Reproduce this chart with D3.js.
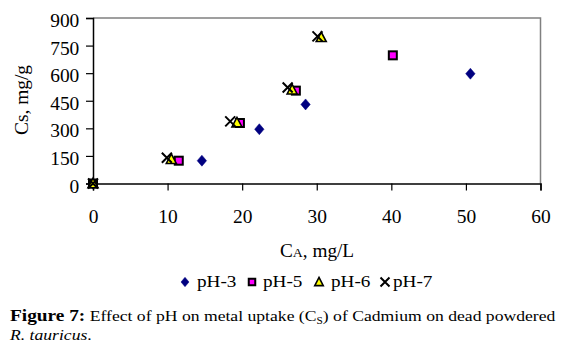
<!DOCTYPE html>
<html><head><meta charset="utf-8">
<script src="https://cdn.jsdelivr.net/npm/d3@7"></script>
<style>body{margin:0;background:#fff}svg{display:block}</style>
</head><body>
<svg id="c" width="566" height="357"></svg>
<script>
const xTicks = [0,10,20,30,40,50,60];
const yTicks = [0,150,300,450,600,750,900];
const seriesNames = ["pH-3","pH-5","pH-6","pH-7"];
const ph3 = [[0,0],[14.6,124],[22.3,295],[28.5,430],[50.6,597]];
const ph5 = [[0,0],[11.5,124],[19.7,329],[27.2,505],[40.2,697]];
const ph6 = [[0,0],[10.5,132],[19.3,331],[26.7,510],[30.6,795]];
const ph7 = [[0,0],[9.9,140],[18.4,338],[26.1,522],[30.1,800]];
const seriesData = [ph3, ph5, ph6, ph7];

const svg = d3.select("#c");
const font = "'Liberation Serif', 'Times New Roman', serif";
const x = d3.scaleLinear().domain([0,60]).range([93,540.5]);
const y = d3.scaleLinear().domain([0,900]).range([183.5,18]);

function place(t, tx, ty, sx, extra){
  t.attr("x",0).attr("y",0).attr("transform",`translate(${tx},${ty})${extra||""} scale(${sx},1)`);
  return t;
}

svg.append("path").attr("d",`M${x(0)},${y(900)}H${x(60)}V${y(0)}`)
  .attr("fill","none").attr("stroke","#808080").attr("stroke-width",1.5);

const xa = svg.append("g").attr("transform",`translate(0,${y(0)})`)
  .call(d3.axisBottom(x).tickValues(xTicks).tickSize(7).tickPadding(20));
const ya = svg.append("g").attr("transform",`translate(${x(0)},0)`)
  .call(d3.axisLeft(y).tickValues(yTicks).tickSize(7).tickPadding(7));
[xa,ya].forEach(a=>{
  a.selectAll("path").attr("stroke","#000").attr("stroke-width",1.5);
  a.selectAll("line").attr("stroke","#000").attr("stroke-width",1.2);
  a.selectAll("text").attr("font-family",font).attr("font-size",18).attr("fill","#000");
});
xa.selectAll("text").attr("dy",null).each(function(){ place(d3.select(this), 0, 39.5, 1.08); });
ya.selectAll("text").attr("dy",null).each(function(){ place(d3.select(this), -13.7, 8.6, 1.08); });

const xt = place(svg.append("text"), 317, 256.7, 1.07).attr("text-anchor","middle")
  .attr("font-family",font).attr("font-size",18).attr("fill","#000");
xt.append("tspan").text("C");
xt.append("tspan").attr("font-size",13).text("A");
xt.append("tspan").text(", mg/L");

place(svg.append("text"), 28, 100, 1.08, " rotate(-90)").attr("text-anchor","middle")
  .attr("font-family",font).attr("font-size",18).attr("fill","#000").text("Cs, mg/g");

function drawMarker(g, i, cx, cy, s){
  if(i===0){
    const w=s*0.47, h=s*0.55;
    g.append("path").attr("d",`M${cx},${cy-h}L${cx+w},${cy}L${cx},${cy+h}L${cx-w},${cy}Z`)
      .attr("fill","#000080").attr("stroke","#000080").attr("stroke-width",0.5);
  } else if(i===1){
    g.append("rect").attr("x",cx-s/2+1).attr("y",cy-s/2+1).attr("width",s-2).attr("height",s-2)
      .attr("fill","#ff00ff").attr("stroke","#000").attr("stroke-width",2);
  } else if(i===2){
    const h=s*0.85;
    g.append("path").attr("d",`M${cx},${cy-h/2-1}L${cx+s/2},${cy+h/2}L${cx-s/2},${cy+h/2}Z`)
      .attr("fill","#ffff00").attr("stroke","#000").attr("stroke-width",1.6);
  } else {
    const r=s/2;
    g.append("path").attr("d",`M${cx-r},${cy-r}L${cx+r},${cy+r}M${cx-r},${cy+r}L${cx+r},${cy-r}`)
      .attr("stroke","#000").attr("stroke-width",2);
  }
}
const pts = svg.append("g");
seriesData.forEach((d,i)=>{
  d.forEach(p=>drawMarker(pts,i,x(p[0]),y(p[1]),10));
});

const legMarkX = [185,252,319,385];
const legTextX = [197,263,331,393];
const leg = svg.append("g");
seriesNames.forEach((n,i)=>{
  drawMarker(leg,i,legMarkX[i],282, i===3?9:8.5);
  place(leg.append("text"), legTextX[i], 287, 1.13).attr("font-family",font)
    .attr("font-size",17).attr("fill","#000").text(n);
});

const cap = svg.append("text").attr("font-family",font).attr("font-size",15.5).attr("fill","#000");
cap.append("tspan").attr("font-weight","bold").attr("font-size",17).text("Figure 7:");
cap.append("tspan").text(" Effect of pH on metal uptake (C");
cap.append("tspan").attr("font-size",10).attr("dy",3).text("S");
cap.append("tspan").attr("dy",-3).text(") of Cadmium on dead powdered");
const capW = cap.node().getComputedTextLength();
const capS = 545.7 / capW;
place(cap, 10, 321, capS);
const cap2 = svg.append("text").attr("font-family",font).attr("font-size",15.5)
  .attr("font-style","italic").attr("fill","#000").text("R. tauricus");
cap2.append("tspan").attr("font-style","normal").text(".");
place(cap2, 10, 340, capS);
</script>
</body></html>
